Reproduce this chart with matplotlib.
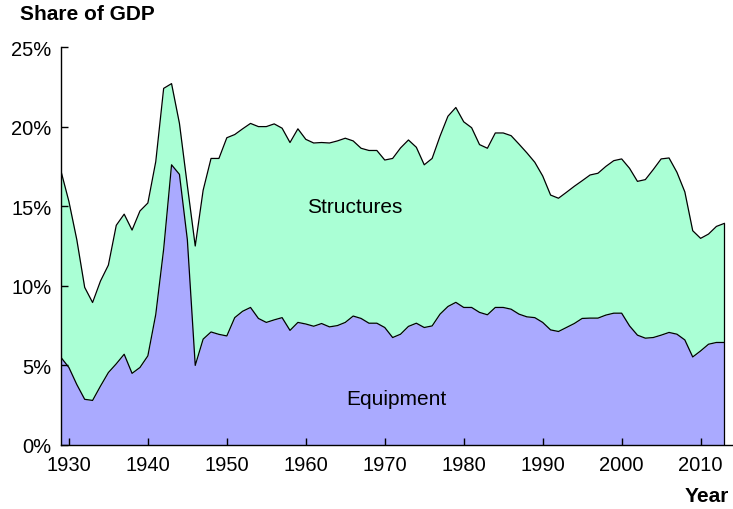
import numpy as np
import matplotlib
matplotlib.use('Agg')
import matplotlib.pyplot as plt

plt.rcParams['font.family'] = ['Liberation Sans', 'DejaVu Sans']

# Investment as share of GDP (%)
years = np.arange(1929, 2014)

equipment = [5.5, 4.87, 3.8, 2.87, 2.8, 3.7, 4.55, 5.1, 5.7, 4.5,
             4.87, 5.6, 8.2, 12.3, 17.6, 17.0, 12.9, 5.0, 6.65, 7.1,
             6.95, 6.85, 8.0, 8.4, 8.64, 7.95, 7.7, 7.86, 8.0, 7.2,
             7.7, 7.6, 7.46, 7.63, 7.42, 7.5, 7.7, 8.1, 7.95, 7.65,
             7.65, 7.38, 6.75, 6.96, 7.45, 7.65, 7.38, 7.48, 8.22, 8.7,
             8.96, 8.64, 8.64, 8.33, 8.18, 8.64, 8.64, 8.53, 8.22, 8.05,
             8.0, 7.7, 7.23, 7.13, 7.38, 7.63, 7.95, 7.97, 7.97, 8.16,
             8.28, 8.28, 7.48, 6.9, 6.71, 6.75, 6.9, 7.07, 6.96, 6.6,
             5.53, 5.91, 6.33, 6.44, 6.44]

structures = [11.7, 10.43, 9.1, 7.03, 6.15, 6.6, 6.75, 8.7, 8.8, 9.0,
              9.83, 9.6, 9.6, 10.1, 5.1, 3.2, 3.4, 7.5, 9.35, 10.9,
              11.05, 12.45, 11.5, 11.46, 11.56, 12.05, 12.3, 12.31, 11.9, 11.8,
              12.16, 11.6, 11.51, 11.37, 11.55, 11.6, 11.57, 11.0, 10.69, 10.85,
              10.85, 10.52, 11.25, 11.7, 11.71, 11.05, 10.22, 10.52, 11.18, 11.95,
              12.24, 11.66, 11.29, 10.54, 10.46, 10.96, 10.96, 10.9, 10.68, 10.3,
              9.76, 9.2, 8.47, 8.37, 8.49, 8.62, 8.65, 8.99, 9.1, 9.34,
              9.58, 9.69, 9.9, 9.66, 9.96, 10.55, 11.07, 10.96, 10.17, 9.3,
              7.93, 7.07, 6.92, 7.29, 7.48]

series_labels = ['Equipment', 'Structures']
yticks = [0, 5, 10, 15, 20, 25]
xticks = [1930, 1940, 1950, 1960, 1970, 1980, 1990, 2000, 2010]

equipment = np.array(equipment)
total = equipment + np.array(structures)

fig = plt.figure(figsize=(7.33, 5.1), dpi=100)
ax = fig.add_axes([61/733, 64/510, 1 - 61/733, 398/510])

ax.fill_between(years, 0, equipment, color='#aaaaff', lw=0)
ax.fill_between(years, equipment, total, color='#aaffd5', lw=0)
ax.plot(years, equipment, color='black', lw=0.9)
ax.plot(years, total, color='black', lw=0.9)
ax.vlines(years[-1], 0, total[-1], color='black', lw=0.9)

ax.text(1966.2, 14.95, series_labels[1], fontsize=15, ha='center', va='center')
ax.text(1971.5, 2.94, series_labels[0], fontsize=15, ha='center', va='center')

ax.set_xlim(1929, 2014.1)
ax.set_ylim(0, 25)
ax.set_xticks(xticks)
ax.set_yticks(yticks)
ax.set_yticklabels([f'{t}%' for t in yticks])
ax.tick_params(direction='in', length=5, width=1, labelsize=14.5)
ax.tick_params(axis='y', pad=7)
ax.tick_params(axis='x', pad=7)
for s in ['top', 'right']:
    ax.spines[s].set_visible(False)
for s in ['left', 'bottom']:
    ax.spines[s].set_linewidth(1)

fig.text(20/733, 1 - 15/510, 'Share of GDP', fontsize=15, fontweight='bold',
         ha='left', va='center')
fig.text(729/733, 1 - 497/510, 'Year', fontsize=15, fontweight='bold',
         ha='right', va='center')

fig.savefig('out.png', dpi=100)
